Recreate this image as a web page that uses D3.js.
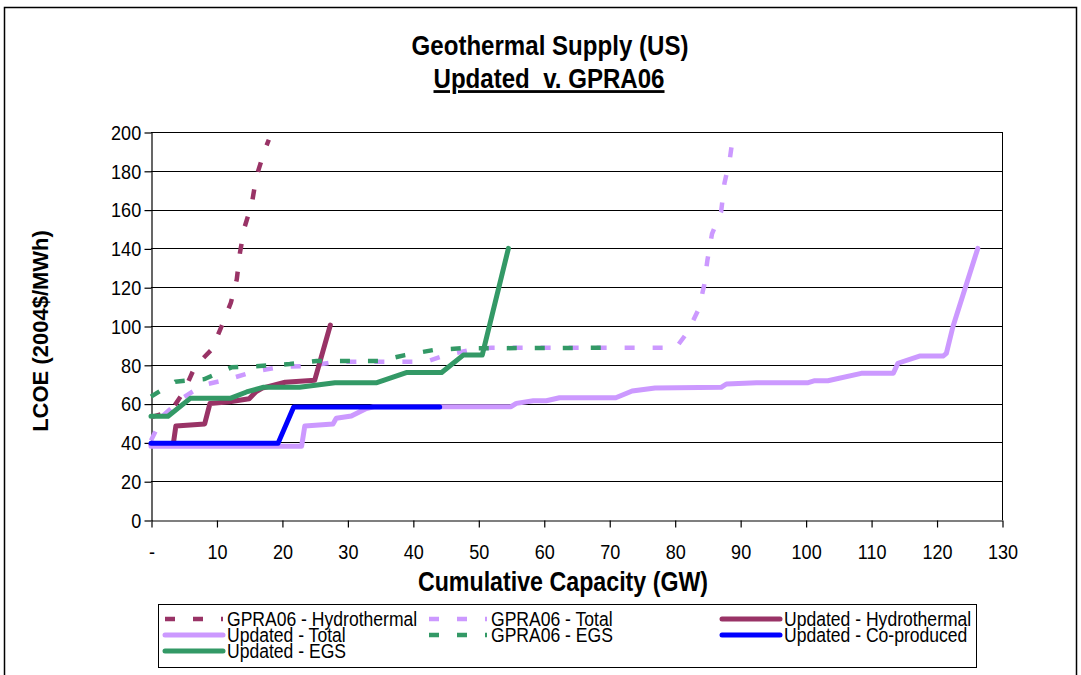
<!DOCTYPE html>
<html>
<head>
<meta charset="utf-8">
<script src="https://cdn.jsdelivr.net/npm/d3@7"></script>
<style>
  body { margin: 0; background: #fff; }
  svg { display: block; }
  text { font-family: "Liberation Sans", Arial, sans-serif; fill: #000; }
</style>
</head>
<body>
<svg width="1081" height="675"></svg>
<script>
/* Chart data */

var xTicks = [0, 10, 20, 30, 40, 50, 60, 70, 80, 90, 100, 110, 120, 130];
var yTicks = [0, 20, 40, 60, 80, 100, 120, 140, 160, 180, 200];

// [cumulative GW, LCOE]
var gpraHydro = [[0, 53], [3, 56], [5, 66], [6.7, 79], [9.3, 88], [10.8, 100], [12.2, 112],
  [13.1, 124], [13.6, 138], [14.3, 151], [15.4, 163], [16.1, 177], [17.4, 191], [18, 196]];

var gpraTotal = [[0, 41], [1.9, 54], [4.7, 62.7], [8, 69.6], [11.8, 72.5], [15.6, 76.4],
  [20, 79], [24.3, 79.4], [28.3, 81.6], [42, 81.6], [45.1, 85], [49.2, 88], [52, 88.8],
  [80.2, 88.8], [82, 97], [83.7, 109], [84.5, 121], [85, 134], [85.7, 147.5], [87.1, 159],
  [87.6, 173.6], [88.4, 185.6], [89, 200]];

var updHydro = [[0, 39], [3.4, 39], [3.8, 48.5], [8.2, 49.5], [9, 60], [12, 61], [15, 62.5],
  [16, 66], [17, 68], [20.5, 71], [25, 72], [27.4, 100.5]];

var updTotal = [[0, 38], [23, 38], [23.5, 48.5], [27.8, 49.5], [28.3, 52.4], [30.6, 53.6],
  [32.9, 57.5], [34, 58.4], [55, 58.4], [55.8, 60.1], [58.4, 61.5], [60.4, 61.5], [62.4, 63],
  [71, 63], [73.5, 66.5], [77, 68], [87.1, 68.4], [87.9, 70.1], [92.5, 70.8], [100.4, 70.8],
  [101.4, 71.8], [103.4, 71.8], [108.5, 75.6], [113.4, 75.6], [114.1, 80.8], [117.4, 84.5],
  [121, 84.5], [121.5, 85.9], [122.5, 99.6], [126.3, 140]];

var gpraEGS = [[0, 63.6], [3.7, 71.3], [8.2, 72.7], [12.3, 78.7], [16.6, 79.4], [21.2, 80.4],
  [25.3, 82], [35, 82], [38.8, 85], [43.1, 87.6], [47.4, 88.5], [70.2, 88.8]];

var updCoprod = [[0, 39.5], [19.4, 39.5], [21.8, 58.3], [44.1, 58.3]];

var updEGS = [[0, 53.5], [2.6, 53.5], [6, 62.7], [12.1, 62.7], [14.6, 66], [17.1, 68.4],
  [22.7, 68.4], [28.1, 70.8], [34.5, 70.8], [39, 76], [44.4, 76], [47.7, 85], [50.6, 85],
  [54.6, 140]];

var seriesNames = ["GPRA06 - Hydrothermal", "GPRA06 - Total", "Updated - Hydrothermal",
  "Updated - Total", "GPRA06 - EGS", "Updated - Co-produced", "Updated - EGS"];
var seriesData = [gpraHydro, gpraTotal, updHydro, updTotal, gpraEGS, updCoprod, updEGS];

/* Styles */

var colors = ["#993366", "#cc99ff", "#993366", "#cc99ff", "#339966", "#0000ff", "#339966"];
var dashed = [true, true, false, false, true, false, false];

var series = seriesNames.map((name, i) => ({
  name: name,
  data: seriesData[i],
  color: colors[i],
  dashed: dashed[i]
}));

/* Setup */

var svg = d3.select("svg");
var w = +svg.attr("width"),
    h = +svg.attr("height");

var plot = { left: 151, right: 1002, top: 132, bottom: 520 };
var squeeze = 0.86; // the original text is narrow

var x = d3.scaleLinear().domain([0, 130]).range([plot.left, plot.right]);
var y = d3.scaleLinear().domain([0, 200]).range([plot.bottom, plot.top]);

var label = (px, py, str, size, weight, sx, anchor) => {
  return svg.append("text")
    .attr("transform", `translate(${px},${py}) scale(${sx},1)`)
    .attr("text-anchor", anchor || "middle")
    .style("font-size", size + "px")
    .style("font-weight", weight)
    .text(str);
};

// outer frame
svg.append("rect")
  .attr("x", 4.5).attr("y", 7.5)
  .attr("width", w - 9).attr("height", h + 20)
  .attr("fill", "none")
  .attr("stroke", "#000")
  .attr("stroke-width", 1.5);

/* Titles */

label(550, 55, "Geothermal Supply (US)", 28, "bold", squeeze);
label(549, 88, "Updated\u00a0 v. GPRA06", 28, "bold", squeeze)
  .style("text-decoration", "underline");

label(563, 591, "Cumulative Capacity (GW)", 27, "bold", squeeze);

svg.append("text")
  .attr("transform", `translate(48,${(plot.top + plot.bottom) / 2 + 5}) rotate(-90)`)
  .attr("text-anchor", "middle")
  .style("font-size", "22px")
  .style("font-weight", "bold")
  .text("LCOE (2004$/MWh)");

/* Grid and axes */

svg.append("g")
  .selectAll("line")
  .data(yTicks.filter((d) => d > 0))
  .enter().append("line")
  .attr("x1", plot.left).attr("x2", plot.right)
  .attr("y1", (d) => Math.round(y(d)) + 0.5)
  .attr("y2", (d) => Math.round(y(d)) + 0.5)
  .attr("stroke", "#000");

svg.append("line")
  .attr("x1", plot.right + 0.5).attr("x2", plot.right + 0.5)
  .attr("y1", plot.top).attr("y2", plot.bottom)
  .attr("stroke", "#000");

var yAxis = svg.append("g")
  .attr("transform", `translate(${plot.left + 0.5},0.5)`)
  .call(d3.axisLeft(y).tickValues(yTicks).tickSize(7).tickPadding(5).tickSizeOuter(0));

var xAxis = svg.append("g")
  .attr("transform", `translate(0.5,${plot.bottom + 0.5})`)
  .call(d3.axisBottom(x).tickValues(xTicks).tickSize(7).tickPadding(17).tickSizeOuter(0)
    .tickFormat((d) => d === 0 ? "-" : d));

[yAxis, xAxis].forEach((ax) => {
  ax.selectAll("path, line").attr("stroke", "#000").attr("stroke-width", 1.2);
  ax.selectAll("text")
    .attr("fill", "#000")
    .attr("transform", `scale(${squeeze},1)`)
    .style("font-size", "21px")
    .style("font-family", "'Liberation Sans', Arial, sans-serif");
});

/* Series */

var line = d3.line()
  .x((d) => x(d[0]))
  .y((d) => y(d[1]));

svg.append("g")
  .selectAll("path")
  .data(series)
  .enter().append("path")
  .attr("d", (d) => line(d.data))
  .attr("fill", "none")
  .attr("stroke", (d) => d.color)
  .attr("stroke-width", (d) => d.dashed ? 4.5 : 5)
  .attr("stroke-dasharray", (d) => d.dashed ? "10,18" : null)
  .attr("stroke-linejoin", "round")
  .attr("stroke-linecap", (d) => d.dashed ? "butt" : "round");

/* Legend */

var legendCols = [165, 429, 722],
    legendRows = [619, 635, 651],
    symLen = 58;

svg.append("rect")
  .attr("x", 158.5).attr("y", 604.5)
  .attr("width", 818).attr("height", 63)
  .attr("fill", "#fff")
  .attr("stroke", "#000");

var items = svg.append("g")
  .selectAll("g")
  .data(series)
  .enter().append("g")
  .attr("transform", (d, i) => `translate(${legendCols[i % 3]},${legendRows[Math.floor(i / 3)]})`);

items.append("line")
  .attr("x1", 0).attr("x2", symLen)
  .attr("stroke", (d) => d.color)
  .attr("stroke-width", (d) => d.dashed ? 4.5 : 5)
  .attr("stroke-dasharray", (d) => d.dashed ? "10,18" : null)
  .attr("stroke-linecap", (d) => d.dashed ? "butt" : "round");

items.append("text")
  .attr("transform", `translate(${symLen + 4},6.5) scale(0.9,1)`)
  .style("font-size", "19.5px")
  .text((d) => d.name);
</script>
</body>
</html>
